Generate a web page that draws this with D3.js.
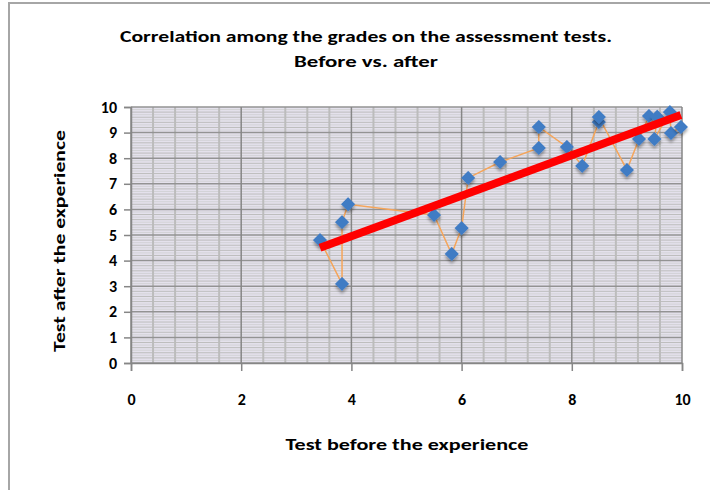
<!DOCTYPE html>
<meta charset="utf-8">
<head>
    <script src="https://d3js.org/d3.v7.min.js"></script>
</head>
<body style="margin:0; background:#fff;">
    <div id="svg_div"></div>
</body>
<script>

    // grades of each student, in the order the thin line joins them
    var before = [3.43, 3.83, 3.83, 3.94, 5.5, 5.82, 6.0, 6.12, 6.7, 7.4, 7.4, 7.91, 8.19, 8.49, 8.49, 9.0, 9.22, 9.4, 9.55, 9.5, 9.78, 9.8, 9.98];
    var after = [4.8, 3.09, 5.5, 6.2, 5.78, 4.26, 5.27, 7.23, 7.85, 8.4, 9.22, 8.44, 7.7, 9.41, 9.61, 7.54, 8.75, 9.65, 9.62, 8.75, 9.8, 8.98, 9.22];

    var x_ticks = [0, 2, 4, 6, 8, 10];
    var y_ticks = [0, 1, 2, 3, 4, 5, 6, 7, 8, 9, 10];

    var title_lines = ["Correlation among the grades on the assessment tests.", "Before vs. after"];
    var x_title = "Test before the experience";
    var y_title = "Test after the experience";

    var font = "Carlito, 'Liberation Sans Narrow', 'Open Sans', sans-serif";

    function draw_chart() {
        let width = 710, height = 490;
        let svg = d3.select("#svg_div").append("svg")
            .attr("width", width)
            .attr("height", height)
            .style("display", "block");

        let defs = svg.append("defs");
        let shadow = defs.append("filter").attr("id", "shadow")
            .attr("x", "-50%").attr("y", "-50%").attr("width", "200%").attr("height", "200%");
        shadow.append("feDropShadow")
            .attr("dx", 2).attr("dy", 2).attr("stdDeviation", 1.5)
            .attr("flood-color", "#000").attr("flood-opacity", 0.35);

        // chart frame (only top and left are visible in the crop)
        svg.append("path")
            .attr("d", "M9,490 V3 H710")
            .attr("fill", "none")
            .attr("stroke", "#a6a6a6")
            .attr("stroke-width", 2);

        let x = d3.scaleLinear().domain([0, 10]).range([131, 682]);
        let y = d3.scaleLinear().domain([0, 10]).range([363, 107]);

        // plot area
        svg.append("rect")
            .attr("x", x(0)).attr("y", y(10))
            .attr("width", x(10) - x(0)).attr("height", y(0) - y(10))
            .attr("fill", "#e4e1ec");

        let grid = svg.append("g");
        // fine horizontal lines
        grid.selectAll(".hfine")
            .data(d3.range(0, 100).filter(d => d % 10 !== 0).map(d => d / 10))
            .enter().append("line")
            .attr("x1", x(0)).attr("x2", x(10))
            .attr("y1", d => y(d)).attr("y2", d => y(d))
            .attr("stroke", d => (Math.round(d * 10) % 2 === 0) ? "#bdbdbd" : "#d2d2d6")
            .attr("stroke-width", 1);
        // minor vertical lines
        grid.selectAll(".vminor")
            .data(d3.range(0, 26).filter(d => d % 5 !== 0).map(d => d * 0.4))
            .enter().append("line")
            .attr("x1", d => x(d)).attr("x2", d => x(d))
            .attr("y1", y(10)).attr("y2", y(0))
            .attr("stroke", "#bcbcbc")
            .attr("stroke-width", 2);
        // major lines
        grid.selectAll(".hmajor")
            .data(y_ticks)
            .enter().append("line")
            .attr("x1", x(0)).attr("x2", x(10))
            .attr("y1", d => y(d)).attr("y2", d => y(d))
            .attr("stroke", "#939393")
            .attr("stroke-width", 1.5);
        grid.selectAll(".vmajor")
            .data(x_ticks)
            .enter().append("line")
            .attr("x1", d => x(d)).attr("x2", d => x(d))
            .attr("y1", y(10)).attr("y2", y(0))
            .attr("stroke", "#868686")
            .attr("stroke-width", 1.5);

        // axes
        let x_axis = svg.append("g")
            .attr("transform", "translate(0," + y(0) + ")")
            .call(d3.axisBottom(x).tickValues(x_ticks).tickSize(8).tickPadding(23));
        let y_axis = svg.append("g")
            .attr("transform", "translate(" + x(0) + ",0)")
            .call(d3.axisLeft(y).tickValues(y_ticks).tickSize(7).tickPadding(7));
        [x_axis, y_axis].forEach(function (a) {
            a.select(".domain").attr("stroke", "#868686").attr("stroke-width", 1.5);
            a.selectAll(".tick line").attr("stroke", "#868686").attr("stroke-width", 1.5);
            a.selectAll(".tick text")
                .attr("fill", "#000")
                .style("font-family", font)
                .style("font-size", "16px")
                .style("font-weight", "bold");
        });

        // connecting line
        let line = d3.line().x(d => x(d[0])).y(d => y(d[1]));
        let pts = before.map((b, i) => [b, after[i]]);
        svg.append("path")
            .datum(pts)
            .attr("d", line)
            .attr("fill", "none")
            .attr("stroke", "#f5a55a")
            .attr("stroke-width", 1.5);

        // markers
        svg.append("g").selectAll("path")
            .data(pts)
            .enter().append("path")
            .attr("d", d3.symbol().type(d3.symbolSquare).size(100))
            .attr("transform", d => "translate(" + x(d[0]) + "," + y(d[1]) + ") rotate(45)")
            .attr("fill", "#3f7bc4")
            .attr("filter", "url(#shadow)");

        // linear trend line (least squares)
        let mx = d3.mean(before), my = d3.mean(after);
        let sxy = d3.sum(before, (b, i) => (b - mx) * (after[i] - my));
        let sxx = d3.sum(before, b => (b - mx) * (b - mx));
        let slope = sxy / sxx, icpt = my - slope * mx;
        let ext = d3.extent(before);
        svg.append("path")
            .datum(ext.map(v => [v, icpt + slope * v]))
            .attr("d", line)
            .attr("stroke", "#ff0000")
            .attr("stroke-width", 8);

        // titles
        let title = svg.append("text")
            .attr("text-anchor", "middle")
            .style("font-family", font)
            .style("font-size", "16px")
            .style("font-weight", "bold")
            .attr("fill", "#000");
        title.append("tspan").attr("x", 366).attr("y", 42)
            .attr("textLength", 492).attr("lengthAdjust", "spacingAndGlyphs")
            .text(title_lines[0]);
        title.append("tspan").attr("x", 366).attr("y", 67)
            .attr("textLength", 144).attr("lengthAdjust", "spacingAndGlyphs")
            .text(title_lines[1]);

        svg.append("text")
            .attr("x", 407).attr("y", 450)
            .attr("text-anchor", "middle")
            .attr("textLength", 243).attr("lengthAdjust", "spacingAndGlyphs")
            .style("font-family", font)
            .style("font-size", "15px")
            .style("font-weight", "bold")
            .text(x_title);

        svg.append("text")
            .attr("transform", "translate(65,241) rotate(-90)")
            .attr("text-anchor", "middle")
            .attr("textLength", 222).attr("lengthAdjust", "spacingAndGlyphs")
            .style("font-family", font)
            .style("font-size", "15px")
            .style("font-weight", "bold")
            .text(y_title);
    }

    draw_chart();

</script>
